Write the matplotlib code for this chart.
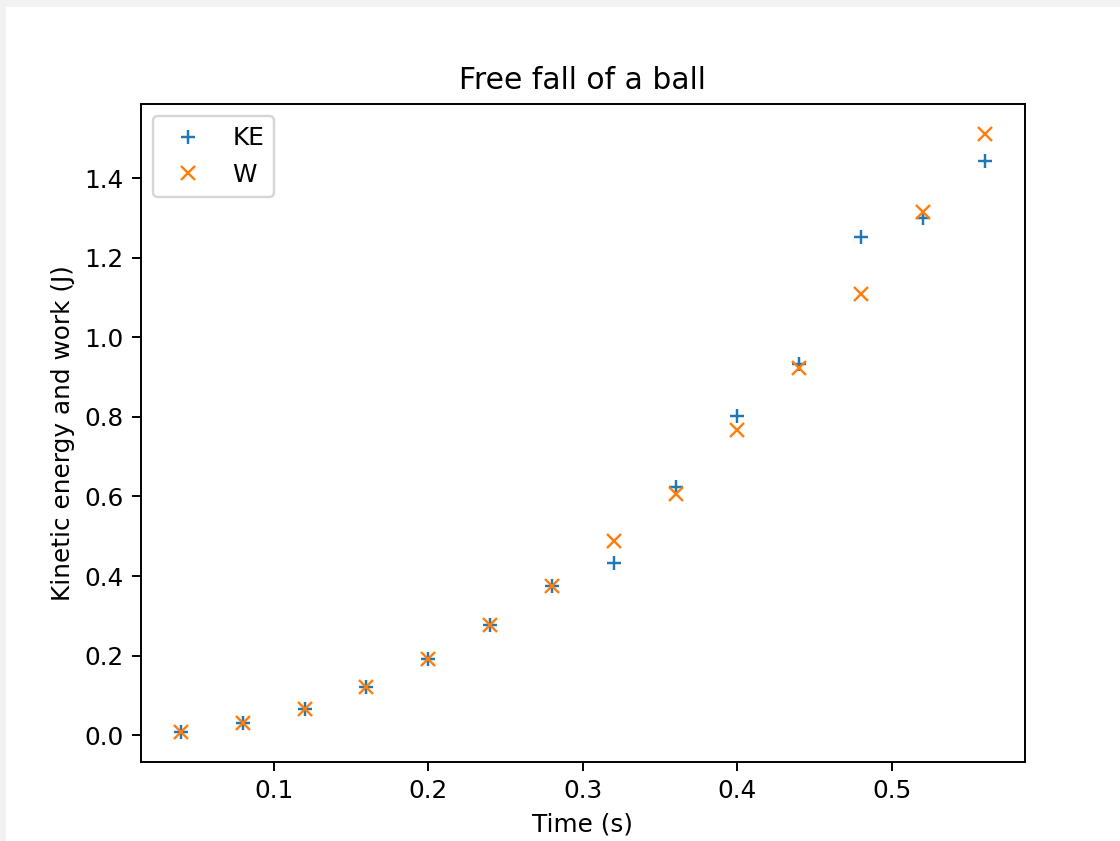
import matplotlib
matplotlib.use('Agg')
import matplotlib.pyplot as plt
from matplotlib.patches import Rectangle

time_s = [0.04, 0.08, 0.12, 0.16, 0.20, 0.24, 0.28,
          0.32, 0.36, 0.40, 0.44, 0.48, 0.52, 0.56]
kinetic_energy = [0.008, 0.032, 0.067, 0.121, 0.192, 0.278, 0.376,
                  0.433, 0.623, 0.801, 0.932, 1.252, 1.300, 1.444]
work = [0.008, 0.032, 0.067, 0.121, 0.192, 0.278, 0.376,
        0.489, 0.606, 0.768, 0.922, 1.108, 1.315, 1.511]

plt.rcParams['font.size'] = 10.2

fig = plt.figure(figsize=(1120 / 175, 841 / 175), dpi=175, facecolor='#f2f2f2')
# white page area inside the light grey frame of the screenshot
fig.patches.append(Rectangle((6 / 1120, 0), 1, 1 - 7 / 841,
                             transform=fig.transFigure, facecolor='white',
                             edgecolor='none', zorder=-10))

ax = fig.add_axes([140.7 / 1120, 1 - 762 / 841, (1025 - 140.7) / 1120, (762 - 104) / 841])

ax.plot(time_s, kinetic_energy, '+', label='KE')
ax.plot(time_s, work, 'x', label='W')

ax.set_title('Free fall of a ball')
ax.set_xlabel('Time (s)')
ax.set_ylabel('Kinetic energy and work (J)')
ax.legend(loc='upper left')

fig.savefig('out.png', dpi=175, facecolor=fig.get_facecolor())
